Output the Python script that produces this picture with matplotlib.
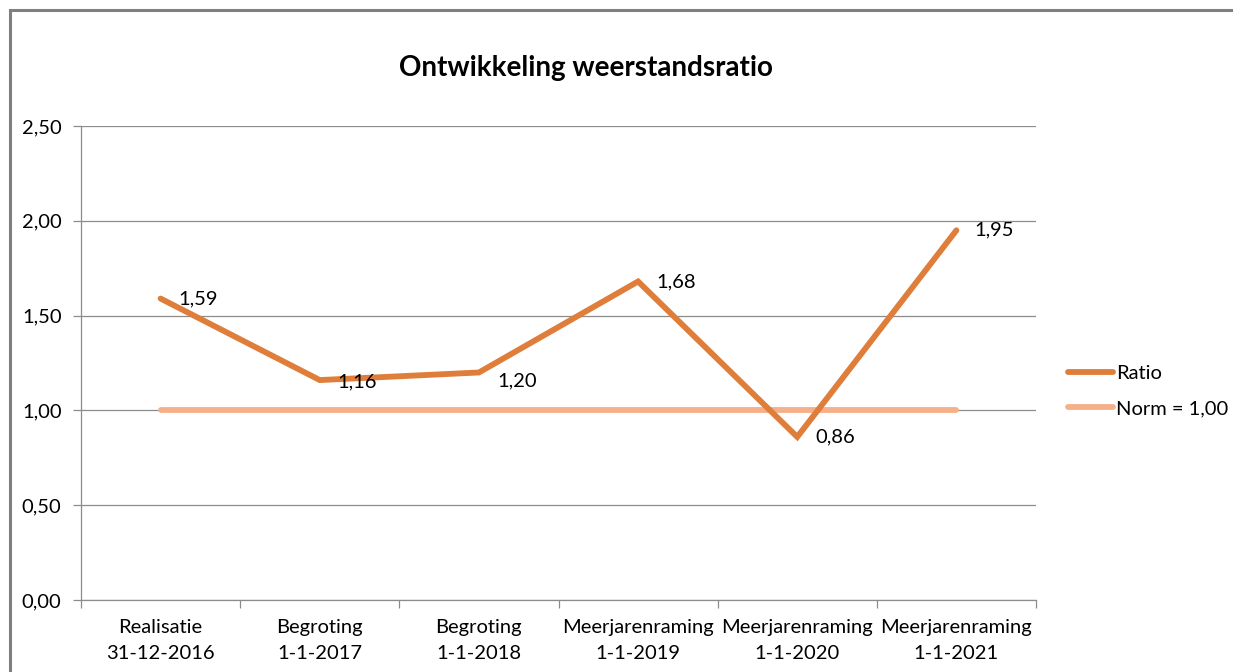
import matplotlib.pyplot as plt
import matplotlib.patches as mpatches
from matplotlib.ticker import FuncFormatter

plt.rcParams['font.family'] = ['Lato', 'DejaVu Sans']

categories = ['Realisatie\n31-12-2016', 'Begroting\n1-1-2017', 'Begroting\n1-1-2018',
              'Meerjarenraming\n1-1-2019', 'Meerjarenraming\n1-1-2020', 'Meerjarenraming\n1-1-2021']
ratio = [1.59, 1.16, 1.20, 1.68, 0.86, 1.95]
norm = [1.00, 1.00, 1.00, 1.00, 1.00, 1.00]
yticks = [0.0, 0.5, 1.0, 1.5, 2.0, 2.5]

ratio_color = '#DF7E3A'
norm_color = '#F5B08A'
grid_color = '#8C8C8C'
fs = 14.5

fig = plt.figure(figsize=(12.33, 6.72), dpi=100)
# outer chart frame
fig.patches.append(mpatches.Rectangle((10/1233, -0.01), 1.02, 1 - 10/672 + 0.01,
                                      transform=fig.transFigure, fill=False,
                                      edgecolor='#7F7F7F', linewidth=2.2))

ax = fig.add_axes([81/1233, 72/672, (1036-81)/1233, (600-126)/672])
x = list(range(len(categories)))

ax.plot(x, norm, color=norm_color, linewidth=4.2, solid_capstyle='round', label='Norm = 1,00', zorder=3)
ax.plot(x, ratio, color=ratio_color, linewidth=4.2, solid_capstyle='round',
        solid_joinstyle='miter', label='Ratio', zorder=4)

offsets = [(18, 0), (18, -2), (18, -8), (18, 0), (18, 0), (18, 0)]
for xi, v, off in zip(x, ratio, offsets):
    ax.annotate(f'{v:.2f}'.replace('.', ','), (xi, v), xytext=off, textcoords='offset pixels',
                ha='left', va='center', fontsize=fs, color='black', zorder=5)

ax.set_xlim(-0.5, len(categories) - 0.5)
ax.set_ylim(0, 2.5)
ax.set_yticks(yticks)
ax.yaxis.set_major_formatter(FuncFormatter(lambda v, p: f'{v:.2f}'.replace('.', ',')))
ax.grid(axis='y', color=grid_color, linewidth=0.9)
ax.set_axisbelow(True)

ax.set_xticks(x)
ax.set_xticklabels(categories, fontsize=fs, linespacing=1.6)
ax.set_xticks([i - 0.5 for i in range(len(categories) + 1)], minor=True)
ax.tick_params(axis='x', which='major', length=0, pad=14)
ax.tick_params(axis='x', which='minor', length=6, color=grid_color, width=0.9)
ax.tick_params(axis='y', length=6, color=grid_color, width=0.9, labelsize=fs, pad=8)

for s in ['top', 'right']:
    ax.spines[s].set_visible(False)
for s in ['left', 'bottom']:
    ax.spines[s].set_color(grid_color)
    ax.spines[s].set_linewidth(0.9)

fig.text(586/1233, 1 - 68/672, 'Ontwikkeling weerstandsratio',
         ha='center', va='center', fontsize=20, fontweight='bold')

handles, labels = ax.get_legend_handles_labels()
ax.legend(handles[::-1], labels[::-1], loc='center left', bbox_to_anchor=((1068-81)/955, 0.441),
          frameon=False, fontsize=fs, handlelength=2.25, handletextpad=0.15,
          labelspacing=0.9, borderpad=0, borderaxespad=0)

fig.savefig('out.png', dpi=100)
